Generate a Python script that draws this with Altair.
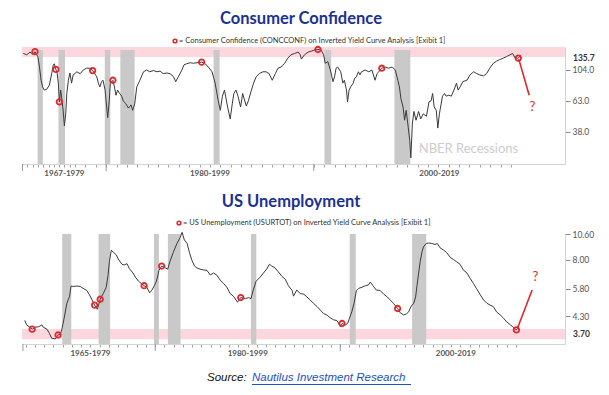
import altair as alt
import pandas as pd

# ---------------- data ----------------
cc_year = [1967.25, 1967.9, 1968.5, 1969.1, 1969.45, 1970.0, 1970.3, 1970.6, 1970.9, 1971.2,
           1971.65, 1972.15, 1972.6, 1972.9, 1973.1, 1973.4, 1973.65, 1973.85, 1974.05, 1974.3,
           1974.7, 1975.0, 1975.25, 1975.45, 1975.75, 1976.05, 1976.35, 1976.65, 1977.0, 1977.15,
           1977.5, 1977.8, 1978.1, 1978.45, 1978.7, 1978.9, 1979.1, 1979.25, 1979.4, 1979.55,
           1979.7, 1979.9, 1980.05, 1980.15, 1980.3, 1980.4, 1980.65, 1980.8, 1980.95, 1981.1,
           1981.3, 1981.5, 1981.65, 1981.9, 1982.15, 1982.4, 1982.55, 1982.75, 1982.95, 1983.25,
           1983.6, 1983.9, 1984.2, 1984.55, 1984.9, 1985.2, 1985.5, 1985.85, 1986.15, 1986.5,
           1986.7, 1986.95, 1987.3, 1987.5, 1987.75, 1988.1, 1988.4, 1988.75, 1989.2, 1989.55,
           1989.85, 1990.2, 1990.5, 1990.8, 1991.0, 1991.2, 1991.4, 1991.7, 1991.95, 1992.15,
           1992.3, 1992.5, 1992.7, 1992.95, 1993.15, 1993.3, 1993.5, 1993.7, 1993.95, 1994.2,
           1994.45, 1994.75, 1995.1, 1995.4, 1995.7, 1996.0, 1996.3, 1996.55, 1996.85, 1997.2,
           1997.5, 1997.8, 1998.15, 1998.5, 1998.7, 1998.8, 1999.1, 1999.45, 1999.75, 2000.1,
           2000.4, 2000.7, 2000.95, 2001.1, 2001.35, 2001.6, 2001.85, 2002.0, 2002.15, 2002.3,
           2002.6, 2002.8, 2002.95, 2003.15, 2003.25, 2003.4, 2003.55, 2003.8, 2003.95, 2004.1,
           2004.3, 2004.45, 2004.6, 2004.95, 2005.3, 2005.6, 2005.9, 2006.1, 2006.55, 2006.9,
           2007.2, 2007.55, 2007.85, 2008.1, 2008.25, 2008.4, 2008.6, 2008.75, 2008.9, 2009.1,
           2009.25, 2009.35, 2009.5, 2009.65, 2009.85, 2010.1, 2010.3, 2010.55, 2010.85, 2011.1,
           2011.3, 2011.45, 2011.6, 2011.8, 2011.95, 2012.1, 2012.4, 2012.6, 2012.75, 2013.0,
           2013.25, 2013.5, 2013.75, 2013.9, 2014.1, 2014.35, 2014.75, 2015.05, 2015.4, 2015.7,
           2016.0, 2016.35, 2016.65, 2016.95, 2017.3, 2017.6, 2017.9, 2018.25, 2018.55, 2018.9,
           2019.15, 2019.4, 2019.7, 2019.95]
cc_value = [136, 133, 139, 134, 140, 129, 109, 88, 79, 75,
            76, 81, 98, 113, 115, 105, 98, 84, 62, 75,
            57, 42, 51, 71, 88, 99, 84, 96, 98, 101,
            98, 104, 107, 107, 103, 98, 93, 84, 79, 86,
            88, 75, 57, 48, 63, 84, 88, 79, 69, 75,
            71, 68, 63, 60, 56, 59, 54, 60, 79, 88,
            101, 104, 101, 103, 101, 102, 98, 99, 98, 93,
            86, 93, 104, 113, 115, 117, 116, 117, 118, 115,
            109, 101, 84, 63, 54, 68, 75, 57, 47, 60,
            71, 75, 68, 57, 71, 65, 58, 63, 73, 84,
            93, 98, 101, 101, 98, 88, 98, 107, 109, 116,
            126, 133, 136, 139, 133, 124, 133, 139, 141, 144,
            145, 144, 133, 116, 119, 104, 86, 93, 107, 109,
            101, 84, 88, 75, 62, 75, 79, 84, 91, 93,
            101, 96, 101, 104, 101, 104, 88, 98, 107, 109,
            107, 109, 104, 88, 79, 65, 57, 46, 54, 41,
            33, 25, 44, 53, 46, 53, 47, 51, 49, 62,
            63, 71, 57, 54, 40.5, 51, 68, 71, 68, 69,
            68, 75, 84, 75, 79, 86, 88, 96, 101, 98,
            96, 94.5, 98, 107, 116, 120, 123, 126, 129, 133,
            136, 126, 126, 133]

cc_mark_year = [1969.45, 1973.4, 1974.05, 1978.7, 1980.65, 1989.2, 2000.4, 2006.55, 2019.7]
cc_mark_value = [140, 105, 62, 103, 88, 118, 145, 107, 126]

ur_year = [1965.9, 1966.1, 1966.7, 1967.0, 1967.4, 1967.75, 1967.9, 1968.3, 1968.55, 1968.8,
           1969.2, 1969.5, 1969.75, 1969.9, 1970.2, 1970.45, 1970.75, 1970.9, 1971.15, 1971.5,
           1971.9, 1972.2, 1972.6, 1972.9, 1973.45, 1973.75, 1974.05, 1974.4, 1974.7, 1974.9,
           1975.05, 1975.25, 1975.5, 1975.8, 1976.0, 1976.4, 1976.65, 1976.95, 1977.2, 1977.6,
           1977.85, 1978.2, 1978.8, 1979.1, 1979.4, 1979.65, 1979.9, 1980.1, 1980.25, 1980.4,
           1980.7, 1981.1, 1981.35, 1981.6, 1981.95, 1982.35, 1982.7, 1982.9, 1983.15, 1983.45,
           1983.7, 1983.95, 1984.25, 1984.5, 1984.85, 1985.2, 1985.6, 1985.95, 1986.3, 1986.65,
           1987.0, 1987.4, 1987.75, 1988.1, 1988.45, 1988.9, 1989.25, 1989.75, 1990.1, 1990.35,
           1990.6, 1990.9, 1991.35, 1991.7, 1992.05, 1992.35, 1992.6, 1992.95, 1993.3, 1993.7,
           1994.05, 1994.4, 1994.8, 1994.95, 1995.3, 1995.7, 1996.05, 1996.4, 1996.75, 1997.1,
           1997.5, 1997.85, 1998.2, 1998.55, 1998.9, 1999.3, 1999.65, 2000.0, 2000.2, 2000.55,
           2000.8, 2001.0, 2001.25, 2001.5, 2001.75, 2002.0, 2002.35, 2002.7, 2003.05, 2003.25,
           2003.55, 2003.9, 2004.3, 2004.7, 2005.1, 2005.4, 2005.75, 2006.2, 2006.5, 2006.85,
           2007.15, 2007.4, 2007.65, 2007.95, 2008.15, 2008.3, 2008.45, 2008.65, 2008.85, 2009.0,
           2009.3, 2009.55, 2009.9, 2010.25, 2010.5, 2010.8, 2011.15, 2011.5, 2011.9, 2012.25,
           2012.6, 2012.95, 2013.3, 2013.7, 2014.05, 2014.4, 2014.75, 2015.15, 2015.5, 2015.85,
           2016.2, 2016.55, 2016.9, 2017.3, 2017.65, 2018.0, 2018.4, 2018.65, 2019.05, 2019.3]
ur_value = [4.1, 3.9, 3.72, 3.8, 3.82, 3.9, 3.8, 3.72, 3.56, 3.37,
            3.34, 3.49, 3.52, 3.69, 4.3, 4.95, 5.35, 5.98, 5.95, 5.98,
            5.95, 5.83, 5.7, 5.42, 4.85, 4.63, 5.17, 5.52, 5.9, 6.7,
            7.85, 8.85, 8.65, 8.42, 8.05, 7.6, 7.54, 7.65, 7.25, 6.9,
            6.6, 6.3, 6.0, 5.9, 5.55, 5.72, 6.0, 6.25, 6.6, 7.1,
            7.45, 7.3, 7.2, 7.85, 8.65, 9.55, 10.2, 10.8, 9.93, 9.55,
            8.65, 7.97, 7.45, 7.3, 7.2, 7.14, 7.1, 6.75, 6.9, 6.75,
            6.4, 6.15, 5.9, 5.5, 5.35, 5.0, 5.27, 5.2, 5.27, 5.2,
            5.72, 6.3, 6.6, 6.9, 7.2, 7.6, 7.45, 7.3, 7.0, 6.65,
            6.45, 6.0, 5.7, 5.35, 5.72, 5.5, 5.47, 5.3, 5.13, 4.95,
            4.77, 4.59, 4.42, 4.35, 4.22, 4.12, 4.09, 3.84, 3.96, 3.9,
            3.96, 4.2, 4.5, 4.95, 5.7, 5.83, 5.9, 6.0, 6.05, 6.25,
            6.0, 5.72, 5.7, 5.47, 5.3, 5.13, 4.95, 4.67, 4.45, 4.35,
            4.4, 4.5, 4.77, 4.95, 5.3, 6.0, 6.75, 7.85, 8.75, 9.2,
            9.55, 9.6, 9.55, 9.45, 9.55, 9.1, 8.9, 8.65, 8.2, 8.0,
            7.8, 7.6, 7.14, 6.9, 6.5, 6.15, 5.8, 5.42, 5.13, 4.95,
            4.85, 4.77, 4.5, 4.35, 4.2, 4.03, 3.9, 3.82, 3.69, 3.84]

ur_mark_year = [1966.7, 1969.5, 1973.45, 1974.05, 1978.8, 1980.7, 1989.25, 2000.2, 2006.2, 2019.05]
ur_mark_value = [3.72, 3.49, 4.85, 5.17, 6.0, 7.45, 5.27, 3.96, 4.67, 3.69]

rec_start = [1969.95, 1973.88, 1979.87, 1981.37, 1990.35, 2001.03, 2007.77]
rec_end = [1970.93, 1975.12, 1980.4, 1982.74, 1990.93, 2001.68, 2009.3]

cc_ticks = [38, 63, 104]
cc_level = 135.7
cc_band = [128.4, 151]
cc_forecast_year = [2019.75, 2020.75]
cc_forecast_value = [124, 69]
cc_groups = ["1967-1979", "1980-1999", "2000-2019"]
cc_group_pos = [1975, 1990, 2012.1]
cc_group_sep = [1967.1, 1980, 2000]
cc_year_ticks = list(range(1967, 2020))

ur_ticks = [4.30, 5.80, 8.00, 10.60]
ur_level = 3.70
ur_band = [3.33, 3.73]
ur_forecast_year = [2019.2, 2020.75]
ur_forecast_value = [3.8, 5.72]
ur_groups = ["1965-1979", "1980-1999", "2000-2019"]
ur_group_pos = [1973, 1990, 2012.5]
ur_group_sep = [1965.7, 1980, 2000]
ur_year_ticks = list(range(1966, 2020))

# ---------------- style ----------------
W, H = 593, 379
RED = "#e3262b"
BAR = "#c9c9c9"
PINK = "#fdd7de"
LINE = "#3a3a3a"
NAVY = "#1b3192"
FONT = "Lato"


def panel(years, values, mk_years, mk_values, ticks, level, level_txt, band, rec_top, fy, fv,
          groups, gpos, gsep, yticks, xdom, xrange, ydom, yrange, x_off, fmt, title, title_xy,
          legend_text, legend_xy, q_pos, nber=None):
    xs = alt.Scale(type="linear", domain=xdom, range=xrange, nice=False, zero=False)
    ys = alt.Scale(type="log", domain=ydom, range=yrange, nice=False)
    xa = alt.Axis(values=yticks, labels=False, tickSize=3, tickColor="#a0a0a0",
                  domainColor="#d4d4d4", grid=False, title=None, orient="bottom", offset=x_off)
    ya = alt.Axis(values=ticks, format=fmt, orient="right", offset=-36, tickSize=5,
                  tickColor="#8a8a8a", domainColor="#d4d4d4", labelFont=FONT, labelFontSize=8.5,
                  labelColor="#555555", labelPadding=2, grid=False, title=None)

    def X(f):
        return alt.X(f, type="quantitative", scale=xs, axis=xa)

    def Y(f):
        return alt.Y(f, type="quantitative", scale=ys, axis=ya)

    band_df = pd.DataFrame({"x0": [xdom[0]], "x1": [xdom[-1]], "y0": [band[0]], "y1": [band[1]]})
    band_l = alt.Chart(band_df).mark_rect(color=PINK).encode(
        x=X("x0"), x2="x1", y=Y("y0"), y2="y1")

    rec_df = pd.DataFrame({"s": rec_start, "e": rec_end,
                           "y0": [ydom[0]] * len(rec_start), "y1": [rec_top] * len(rec_start)})
    rec_l = alt.Chart(rec_df).mark_rect(color=BAR).encode(
        x=X("s"), x2="e", y=Y("y0"), y2="y1")

    line_df = pd.DataFrame({"year": years, "val": values})
    line_l = alt.Chart(line_df).mark_line(color=LINE, strokeWidth=1).encode(
        x=X("year"), y=Y("val"))

    mk_df = pd.DataFrame({"year": mk_years, "val": mk_values})
    mk_l = alt.Chart(mk_df).mark_point(shape="circle", size=30, color=RED, strokeWidth=1.8,
                                       filled=False, opacity=1).encode(x=X("year"), y=Y("val"))

    fc_df = pd.DataFrame({"year": fy, "val": fv})
    fc_l = alt.Chart(fc_df).mark_line(color=RED, strokeWidth=1.6).encode(x=X("year"), y=Y("val"))

    q_df = pd.DataFrame({"year": [q_pos[0]], "val": [q_pos[1]], "t": ["?"]})
    q_l = alt.Chart(q_df).mark_text(color=RED, fontSize=13, font=FONT).encode(
        x=X("year"), y=Y("val"), text="t:N")

    lvl_df = pd.DataFrame({"val": [level], "t": [level_txt]})
    lvl_l = alt.Chart(lvl_df).mark_text(align="left", dy=4, fontSize=8.5, fontWeight="bold",
                                        font=FONT, color="#333333").encode(
        x=alt.value(xrange[-1] + 8), y=Y("val"), text="t:N")

    grp_df = pd.DataFrame({"year": gpos, "t": groups})
    grp_l = alt.Chart(grp_df).mark_text(fontSize=8, font=FONT, fontWeight="bold",
                                        color="#555555").encode(
        x=X("year"), y=alt.value(yrange[0] + 10), text="t:N")

    sep_df = pd.DataFrame({"year": gsep})
    sep_l = alt.Chart(sep_df).mark_rule(color="#9a9a9a", strokeWidth=1).encode(
        x=X("year"), y=alt.value(yrange[0]), y2=alt.value(yrange[0] + 7))

    ttl_df = pd.DataFrame({"t": [title]})
    ttl_l = alt.Chart(ttl_df).mark_text(fontSize=16.5, fontWeight="bold", font=FONT,
                                        color=NAVY).encode(
        x=alt.value(title_xy[0]), y=alt.value(title_xy[1]), text="t:N")

    lg_df = pd.DataFrame({"t": [legend_text]})
    lg_pt = alt.Chart(lg_df).mark_point(shape="circle", size=14, color=RED, strokeWidth=1.5,
                                        filled=False, opacity=1).encode(
        x=alt.value(legend_xy[0]), y=alt.value(legend_xy[1]))
    lg_tx = alt.Chart(lg_df).mark_text(align="left", fontSize=7.5, font=FONT,
                                       color="#333333").encode(
        x=alt.value(legend_xy[0] + 4), y=alt.value(legend_xy[1]), text="t:N")

    layers = [band_l, rec_l, line_l, mk_l, fc_l, q_l, lvl_l, grp_l, sep_l, ttl_l, lg_pt, lg_tx]
    if nber is not None:
        nb_df = pd.DataFrame({"year": [nber[0]], "val": [nber[1]], "t": ["NBER Recessions"]})
        layers.append(alt.Chart(nb_df).mark_text(fontSize=13, font=FONT, color="#cdcdcd").encode(
            x=X("year"), y=Y("val"), text="t:N"))
    return alt.layer(*layers)


top = panel(cc_year, cc_value, cc_mark_year, cc_mark_value, cc_ticks, cc_level, "135.7", cc_band,
            143.8, cc_forecast_year, cc_forecast_value, cc_groups, cc_group_pos, cc_group_sep,
            cc_year_ticks, [1967, 1977, 2024.2], [14, 67, 557], [22.6, 151], [156, 39], 156 - H,
            ".1f", "Consumer Confidence", (293, 10.5),
            "= Consumer Confidence (CONCCONF) on Inverted Yield Curve Analysis [Exibit 1]", (167, 33),
            (2021.05, 56.7), nber=(2014.9, 28.8))

bottom = panel(ur_year, ur_value, ur_mark_year, ur_mark_value, ur_ticks, ur_level, "3.70", ur_band,
               10.6, ur_forecast_year, ur_forecast_value, ur_groups, ur_group_pos, ur_group_sep,
               ur_year_ticks, [1965.6, 2024.3], [14, 557], [3.16, 10.6], [336, 226], 336 - H,
               ".2f", "US Unemployment", (283, 194),
               "= US Unemployment (USURTOT)  on Inverted Yield Curve Analysis [Exibit 1]", (171, 215),
               (2021.1, 6.57))

src_df = pd.DataFrame({"a": ["Source:"], "b": ["Nautilus Investment Research"]})
src_a = alt.Chart(src_df).mark_text(align="left", fontSize=11.5, fontStyle="italic",
                                    font="Liberation Sans", color="#111111").encode(
    x=alt.value(199), y=alt.value(370), text="a:N")
src_b = alt.Chart(src_df).mark_text(align="left", fontSize=11.5, fontStyle="italic",
                                    font="Liberation Sans", color="#2150c0").encode(
    x=alt.value(244), y=alt.value(370), text="b:N")
src_u = alt.Chart(src_df).mark_rule(color="#2150c0", strokeWidth=1).encode(
    x=alt.value(244), x2=alt.value(403), y=alt.value(376.5))

chart = alt.layer(top, bottom, src_a, src_b, src_u).resolve_scale(
    x="independent", y="independent"
).properties(
    width=W, height=H, autosize=alt.AutoSizeParams(type="none"), padding=0,
    background="white"
).configure_view(stroke=None)

chart.save("out.html", embed_options={"renderer": "svg", "actions": False})
